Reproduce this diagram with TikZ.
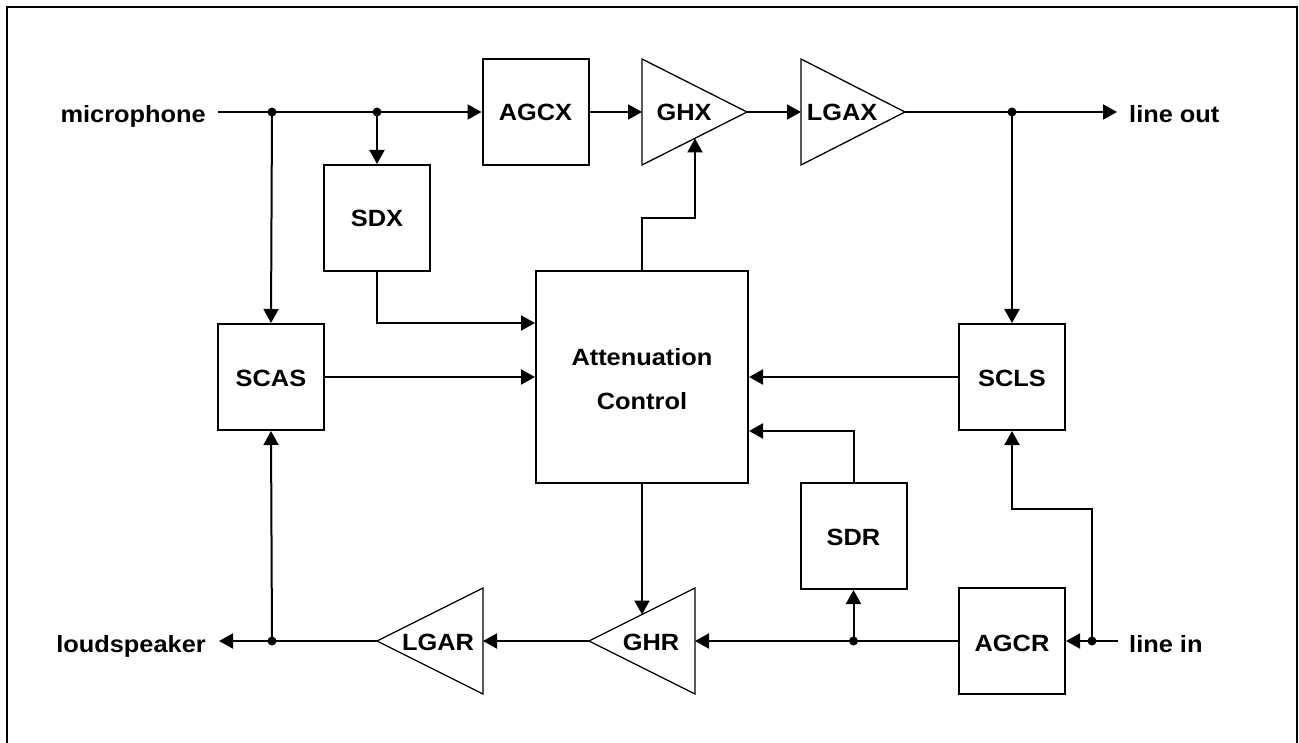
\documentclass[tikz,border=0pt]{standalone}
\usepackage{fontspec}
\setmainfont{Liberation Sans}[FakeStretch=1.08]
\usetikzlibrary{arrows.meta,calc}
\tikzset{
  blk/.style={draw,line width=2pt,minimum width=106pt,minimum height=106pt,inner sep=0pt},
  amp/.style={draw,line width=1.3pt,line join=miter},
  lbl/.style={inner sep=0pt,font=\bfseries\fontsize{23.5}{28}\selectfont},
  con/.style={line width=2pt},
  arr/.style={con,-{Triangle[length=14pt,width=15pt]}},
  jdot/.style={circle,fill,inner sep=0pt,minimum size=9pt},
  frame/.style={draw,line width=2.5pt}
}
\begin{document}
\begin{tikzpicture}[x=1pt,y=-1pt]
\useasboundingbox (0,0) rectangle (1299,743);
\draw[frame] (7,760) -- (7,7) -- (1297,7) -- (1297,760);

% boxes
\node[blk] (AGCX) at (535.5,112) {};
\node[blk] (SDX) at (377,218) {};
\node[blk] (SCAS) at (271,377) {};
\node[blk] (SCLS) at (1012,377) {};
\node[blk] (SDR) at (853.5,536) {};
\node[blk] (AGCR) at (1012,641) {};
\node[blk,minimum width=212pt,minimum height=212pt] (AC) at (642,377) {};

% amplifier triangles
\coordinate (ghxL) at (642,112); \coordinate (ghxT) at (747,112);
\coordinate (lgaxL) at (801,112); \coordinate (lgaxT) at (905,112);
\coordinate (ghrR) at (695,641); \coordinate (ghrT) at (589,641);
\coordinate (lgarR) at (483,641); \coordinate (lgarT) at (377,641);
\draw[amp] (642,59) -- (ghxT) -- (642,165) -- cycle;
\draw[amp] (801,59) -- (lgaxT) -- (801,165) -- cycle;
\draw[amp] (695,588) -- (ghrT) -- (695,694) -- cycle;
\draw[amp] (483,588) -- (lgarT) -- (483,694) -- cycle;

% labels
\node[lbl,anchor=base] (tAGCX) at (535.5,121) {AGCX};
\node[lbl,anchor=base] (tSDX) at (377,227) {SDX};
\node[lbl,anchor=base] (tSCAS) at (271,386) {SCAS};
\node[lbl,anchor=base] (tSCLS) at (1012,386) {SCLS};
\node[lbl,anchor=base] (tSDR) at (853.5,545) {SDR};
\node[lbl,anchor=base] (tAGCR) at (1012,651) {AGCR};
\node[lbl,anchor=base] (tGHX) at (684,121) {GHX};
\node[lbl,anchor=base] (tLGAX) at (842,121) {LGAX};
\node[lbl,anchor=base] (tGHR) at (651,650) {GHR};
\node[lbl,anchor=base] (tLGAR) at (438,650) {LGAR};
\node[lbl,anchor=base] (tAtt) at (642,366) {Attenuation};
\node[lbl,anchor=base] (tCtl) at (642,409) {Control};
\node[lbl,anchor=base east] (mic) at (206,123) {microphone};
\node[lbl,anchor=base east] (spk) at (206,652) {loudspeaker};
\node[lbl,anchor=base west] (lout) at (1129,123) {line out};
\node[lbl,anchor=base west] (lin) at (1129,652) {line in};

% junctions and free ends
\coordinate (micS) at (218,112);
\coordinate (loutE) at (1117,112);
\coordinate (linS) at (1118,641);
\coordinate (spkE) at (219,641);
\coordinate (ghxC) at (695,138.5);
\coordinate (ghrC) at (642,614.5);
\coordinate (kink) at (1012,509);
\node[jdot] (d1) at (272,112) {};
\node[jdot] (d2) at (377,112) {};
\node[jdot] (d3) at (1012,112) {};
\node[jdot] (d4) at (1092,641) {};
\node[jdot] (d5) at (853.5,641) {};
\node[jdot] (d6) at (272,641) {};

% connectors
\draw[arr] (micS) -- (AGCX.west);
\draw[arr] (d1.center) -- (SCAS.north);
\draw[arr] (d2.center) -- (SDX.north);
\draw[arr] (AGCX.east) -- (ghxL);
\draw[arr] (ghxT) -- (lgaxL);
\draw[arr] (lgaxT) -- (loutE);
\draw[arr] (d3.center) -- (SCLS.north);
\draw[arr] (SDX.south) |- (AC.west |- SCAS.north);
\draw[arr] (SCAS.east) -- (AC.west);
\draw[arr] (SCLS.west) -- (AC.east);
\draw[arr] (SDR.north) |- (AC.east |- SCLS.south);
\draw[arr] (AC.north) -- (642,218) -| (ghxC);
\draw[arr] (AC.south) -- (ghrC);
\draw[arr] (linS) -- (AGCR.east);
\draw[arr] (d4.center) |- (kink) -- (SCLS.south);
\draw[arr] (AGCR.west) -- (ghrR);
\draw[arr] (d5.center) -- (SDR.south);
\draw[arr] (ghrT) -- (lgarR);
\draw[arr] (lgarT) -- (spkE);
\draw[arr] (d6.center) -- (SCAS.south);
\end{tikzpicture}
\end{document}
